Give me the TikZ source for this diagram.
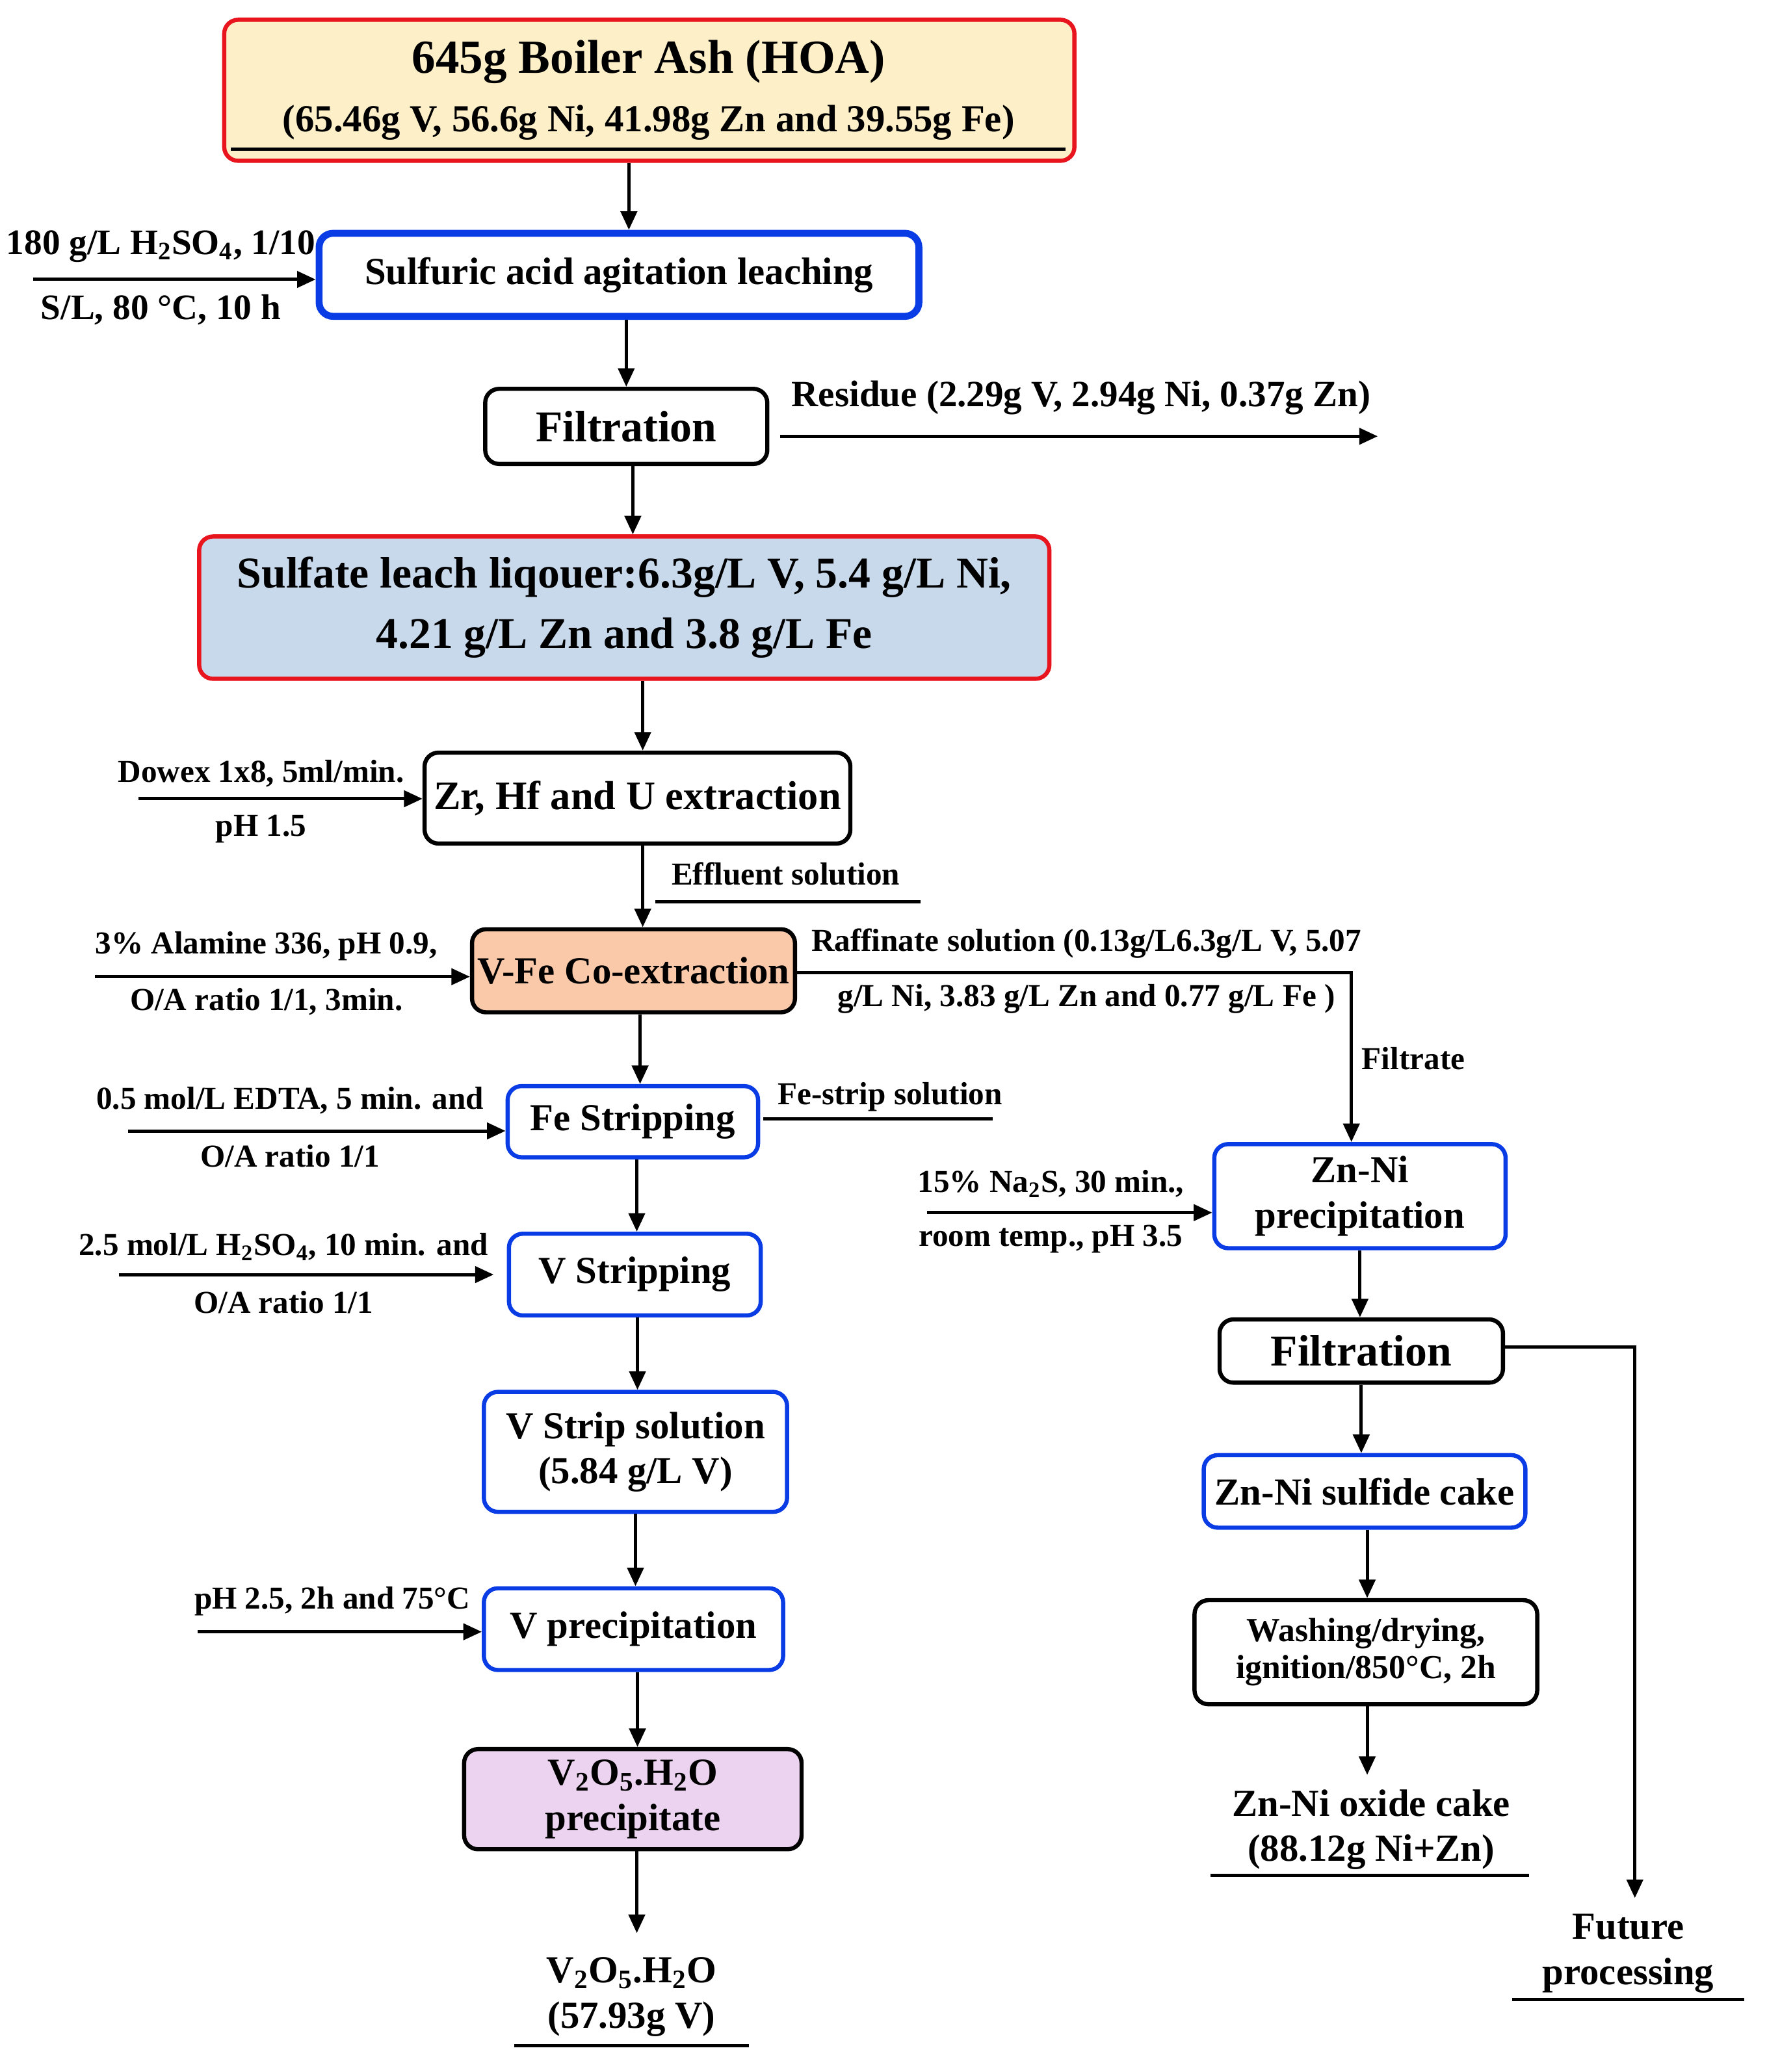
\documentclass[tikz,border=0pt]{standalone}
\usepackage{fontspec}
\setmainfont{Liberation Serif}
\usetikzlibrary{arrows.meta,calc}
\definecolor{yel}{HTML}{FDEFC8}
\definecolor{lblue}{HTML}{C9D9EC}
\definecolor{peach}{HTML}{F9C9A9}
\definecolor{lilac}{HTML}{ECD3EF}
\definecolor{bblue}{HTML}{0A3CE6}
\definecolor{rred}{HTML}{E8141E}
\tikzset{
 box/.style={draw, rounded corners=6pt, line width=1.8pt, inner sep=0pt, align=center, font=\bfseries\fontsize{16.5}{19.5}\selectfont},
 bbox/.style={box, draw=bblue},
 kbox/.style={box, draw=black},
 rbox/.style={box, draw=rred},
 lab/.style={font=\bfseries\fontsize{13.8}{16}\selectfont, inner sep=0pt, align=center},
 arr/.style={-{Triangle[length=8pt,width=7pt]}, line width=1.4pt},
 ln/.style={line width=1.4pt}
}
\begin{document}
\begin{tikzpicture}[x=0.02cm,y=-0.02cm]
\useasboundingbox (0,0) rectangle (1340,1572);
% left column boxes
\node[rbox, fill=yel, minimum width=12.9cm, minimum height=2.14cm] (b1) at (492.5,68.5) {};
\node[font=\bfseries\fontsize{20.5}{24}\selectfont] (b1a) at (492,47) {645g Boiler Ash (HOA)};
\node[font=\bfseries\fontsize{16.5}{19}\selectfont] (b1b) at (492,93) {(65.46g V, 56.6g Ni, 41.98g Zn and 39.55g Fe)};
\coordinate (u1a) at (175,113); \coordinate (u1b) at (808,113);
\draw[ln] (u1a) -- (u1b);
\node[bbox, line width=3pt, minimum width=9.1cm, minimum height=1.26cm] (b2) at (469.5,208.5) {Sulfuric acid agitation leaching};
\node[kbox, minimum width=4.28cm, minimum height=1.14cm, font=\bfseries\fontsize{19}{22}\selectfont] (f1) at (475,323.5) {Filtration};
\node[rbox, fill=lblue, minimum width=12.9cm, minimum height=2.16cm, font=\bfseries\fontsize{19}{26}\selectfont] (b3) at (473.5,461) {Sulfate leach liqouer:6.3g/L V, 5.4 g/L Ni,\\4.21 g/L Zn and 3.8 g/L Fe};
\node[kbox, minimum width=6.46cm, minimum height=1.38cm, font=\bfseries\fontsize{17.5}{20}\selectfont] (zr) at (483.5,605.5) {Zr, Hf and U extraction};
\node[kbox, fill=peach, minimum width=4.9cm, minimum height=1.26cm] (vfe) at (480.5,736.5) {V-Fe Co-extraction};
\node[bbox, minimum width=3.8cm, minimum height=1.08cm] (fes) at (480,851) {Fe Stripping};
\node[bbox, minimum width=3.82cm, minimum height=1.24cm] (vs) at (481.5,967) {V Stripping};
\node[bbox, minimum width=4.6cm, minimum height=1.82cm] (vss) at (482,1101.5) {V Strip solution\\(5.84 g/L V)};
\node[bbox, minimum width=4.54cm, minimum height=1.24cm] (vp) at (480.5,1236) {V precipitation};
\node[kbox, fill=lilac, minimum width=5.12cm, minimum height=1.52cm] (v2o5) at (480,1365) {V\textsubscript{2}O\textsubscript{5}.H\textsubscript{2}O\\precipitate};
\node[box, draw=none, inner sep=2pt] (out1) at (479,1515) {V\textsubscript{2}O\textsubscript{5}.H\textsubscript{2}O\\(57.93g V)};
\coordinate (u2a) at (390,1552); \coordinate (u2b) at (568,1552);
\draw[ln] (u2a) -- (u2b);
% right column
\node[bbox, minimum width=4.42cm, minimum height=1.58cm] (znp) at (1031.5,907.5) {Zn-Ni\\precipitation};
\node[kbox, minimum width=4.3cm, minimum height=0.96cm, font=\bfseries\fontsize{19}{22}\selectfont] (f2) at (1032.5,1025) {Filtration};
\node[bbox, minimum width=4.88cm, minimum height=1.1cm] (zns) at (1035,1131.5) {Zn-Ni sulfide cake};
\node[kbox, minimum width=5.2cm, minimum height=1.58cm, font=\bfseries\fontsize{14.5}{16}\selectfont] (wash) at (1036,1253.5) {Washing/drying,\\ignition/850°C, 2h};
\node[box, draw=none, inner sep=2pt] (out2) at (1040,1388) {Zn-Ni oxide cake\\(88.12g Ni+Zn)};
\coordinate (u3a) at (918,1423); \coordinate (u3b) at (1160,1423);
\draw[ln] (u3a) -- (u3b);
\node[box, draw=none, inner sep=2pt] (out3) at (1235,1482) {Future\\processing};
\coordinate (u4a) at (1147,1517); \coordinate (u4b) at (1323,1517);
\draw[ln] (u4a) -- (u4b);
% main vertical arrows
\draw[arr] (b1.south -| b1a) ++(-15,0) coordinate (t1) -- (t1 |- b2.north);
\draw[arr] (b2.south -| f1) -- (f1.north);
\draw[arr] (f1.south) ++(5,0) coordinate (t2) -- (t2 |- b3.north);
\draw[arr] (b3.south -| zr) ++(4,0) coordinate (t3) -- (t3 |- zr.north);
\draw[arr] (zr.south) ++(4,0) coordinate (t4) -- (t4 |- vfe.north);
\draw[arr] (vfe.south) ++(5,0) coordinate (t5) -- (t5 |- fes.north);
\draw[arr] (fes.south) ++(3,0) coordinate (t6) -- (t6 |- vs.north);
\draw[arr] (vs.south) ++(2,0) coordinate (t7) -- (t7 |- vss.north);
\draw[arr] (vss.south) -- (vss.south |- vp.north);
\draw[arr] (vp.south) ++(3,0) coordinate (t8) -- (t8 |- v2o5.north);
\draw[arr] (v2o5.south) ++(3,0) coordinate (t9) -- ++(0,62);
\draw[arr] (znp.south) -- (znp.south |- f2.north);
\draw[arr] (f2.south) -- (f2.south |- zns.north);
\draw[arr] (zns.south) ++(2,0) coordinate (t10) -- (t10 |- wash.north);
\draw[arr] (wash.south) ++(1,0) coordinate (t11) -- ++(0,52);
% side inputs
\node[lab, font=\bfseries\fontsize{15.5}{18}\selectfont] (l2a) at (122,187) {180 g/L H\textsubscript{2}SO\textsubscript{4}, 1/10};
\node[lab, font=\bfseries\fontsize{15.5}{18}\selectfont] (l2b) at (122,235) {S/L, 80 °C, 10 h};
\coordinate (s2) at (25,212); \draw[arr] (s2) -- (s2 -| b2.west);
\node[lab, font=\bfseries\fontsize{16}{18}\selectfont] (res) at (820,302) {Residue (2.29g V, 2.94g Ni, 0.37g Zn)};
\coordinate (r1) at (1045,331); \draw[arr] (r1 -| f1.east) ++(8,0) -- (r1);
\node[lab] (l4a) at (198,587) {Dowex 1x8, 5ml/min.};
\node[lab] (l4b) at (198,629) {pH 1.5};
\coordinate (s4) at (105,606); \draw[arr] (s4) -- (s4 -| zr.west);
\node[lab] (eff) at (596,663) {Effluent solution};
\coordinate (ea) at (497,684); \coordinate (eb) at (698,684); \draw[ln] (ea) -- (eb);
\node[lab] (l5a) at (202,718) {3\% Alamine 336, pH 0.9,};
\node[lab] (l5b) at (202,760) {O/A ratio 1/1, 3min.};
\coordinate (s5) at (72,741); \draw[arr] (s5) -- (s5 -| vfe.west);
\node[lab] (raf1) at (824,716) {Raffinate solution (0.13g/L6.3g/L V, 5.07};
\node[lab] (raf2) at (824,758) {g/L Ni, 3.83 g/L Zn and 0.77 g/L Fe )};
\coordinate (rc) at (1025,738);
\draw[arr] (vfe.east |- rc) -- (rc) -- (rc |- znp.north);
\node[lab] (filt) at (1072,803) {Filtrate};
\node[lab] (l6a) at (220,835) {0.5 mol/L EDTA, 5 min. and};
\node[lab] (l6b) at (220,877) {O/A ratio 1/1};
\coordinate (s6) at (97,858); \draw[arr] (s6) -- (s6 -| fes.west);
\node[lab] (fsr) at (675,832) {Fe-strip solution};
\coordinate (fa) at (579,849); \coordinate (fb) at (753,849); \draw[ln] (fa) -- (fb);
\node[lab] (l7a) at (215,946) {2.5 mol/L H\textsubscript{2}SO\textsubscript{4}, 10 min. and};
\node[lab] (l7b) at (215,988) {O/A ratio 1/1};
\coordinate (s7) at (90,967); \draw[arr] (s7) -- ($(s7 -| vs.west)+(-10,0)$);
\node[lab] (l8) at (252,1215) {pH 2.5, 2h and 75°C};
\coordinate (s8) at (150,1238); \draw[arr] (s8) -- (s8 -| vp.west);
\node[lab] (l9a) at (797,898) {15\% Na\textsubscript{2}S, 30 min.,};
\node[lab] (l9b) at (797,940) {room temp., pH 3.5};
\coordinate (s9) at (703,920); \draw[arr] (s9) -- (s9 -| znp.west);
\coordinate (fc) at (1240,1022);
\draw[arr] (f2.east |- fc) -- (fc) -- (1240,1440);
\end{tikzpicture}
\end{document}
